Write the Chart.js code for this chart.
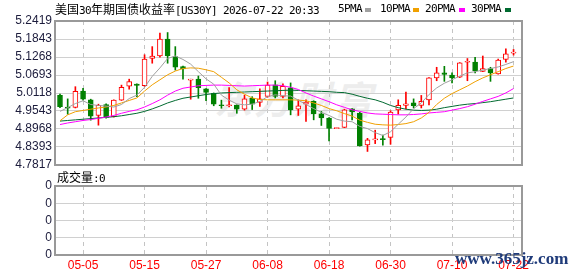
<!DOCTYPE html>
<html>
<head>
<meta charset="utf-8">
<script src="https://cdn.jsdelivr.net/npm/chart.js@4"></script>
<style>
  body { margin: 0; background: #fff; }
  #wrap { position: relative; width: 578px; height: 276px; overflow: hidden; font-family: "Noto Sans CJK SC", sans-serif; }
  #wrap canvas { position: absolute; left: 0; top: 0; }
  .txt { position: absolute; font-size: 12px; line-height: 14px; color: #000; white-space: nowrap; }
  .a { font-family: "DejaVu Sans Mono", monospace; font-size: 11px; letter-spacing: -0.62px; }
  .mk { position: absolute; width: 6px; height: 4px; }
  #wm { position: absolute; left: 214px; top: 70px; font-size: 38px; font-weight: bold; font-style: italic; color: #ededed; letter-spacing: 2px; }
  #site { position: absolute; left: 455px; top: 249px; font-family: "Liberation Serif", serif; font-weight: bold; font-size: 17px; color: #1f3b7a; }
</style>
</head>
<body>
<div id="wrap">
  <div id="wm">东方财富</div>
  <canvas id="price" width="578" height="276"></canvas>
  <canvas id="vol" width="578" height="276"></canvas>
  <div class="txt" style="left:55px;top:2px;">美国<span class="a">30</span>年期国债收益率<span class="a">[US30Y] 2026-07-22 20:33</span></div>
  <div class="txt a" style="left:338px;top:2px;">5PMA</div><div class="mk" style="left:365px;top:8px;background:#a0a0a0"></div>
  <div class="txt a" style="left:380px;top:2px;">10PMA</div><div class="mk" style="left:413px;top:8px;background:#f0a000"></div>
  <div class="txt a" style="left:425px;top:2px;">20PMA</div><div class="mk" style="left:459px;top:8px;background:#ff00ff"></div>
  <div class="txt a" style="left:471px;top:2px;">30PMA</div><div class="mk" style="left:505px;top:8px;background:#006a30"></div>
  <div class="txt" style="left:57px;top:170px;">成交量<span class="a">:0</span></div>
  <div id="site">www.365jz.com</div>
</div>
<script>
const dates = ['05-05', '05-15', '05-27', '06-08', '06-18', '06-30', '07-10', '07-22'];
const dateIdx = [3, 11, 19, 27, 35, 43, 51, 59];
const priceTicks = [4.7817, 4.8393, 4.8968, 4.9543, 5.0118, 5.0693, 5.1268, 5.1843, 5.2419];

const opens = [5.004, 4.967, 4.966, 5.018, 4.990, 4.940, 4.975, 4.936, 4.989, 5.034,
  5.040, 5.035, 5.122, 5.130, 5.184, 5.128, 5.096, 5.053, 5.056, 5.025,
  5.011, 4.974, 4.971, 4.973, 4.960, 4.995, 4.982, 5.001, 5.038, 5.001,
  5.028, 4.960, 4.976, 4.985, 4.945, 4.932, 4.898, 4.902, 4.961, 4.948,
  4.846, 4.862, 4.866, 4.870, 4.958, 4.972, 4.980, 4.972, 4.990, 5.060,
  5.076, 5.069, 5.062, 5.110, 5.111, 5.081, 5.090, 5.073, 5.119, 5.139];
const closes = [4.968, 4.963, 5.017, 4.992, 4.938, 4.972, 4.934, 4.989, 5.030, 5.048,
  5.036, 5.120, 5.130, 5.184, 5.131, 5.094, 5.089, 5.056, 5.029, 5.014,
  4.976, 4.971, 4.974, 4.960, 4.993, 4.976, 4.993, 5.037, 5.001, 5.033,
  4.958, 4.971, 4.983, 4.945, 4.932, 4.899, 4.900, 4.958, 4.951, 4.843,
  4.862, 4.865, 4.863, 4.951, 4.972, 4.977, 4.971, 4.985, 5.060, 5.076,
  5.071, 5.060, 5.108, 5.113, 5.083, 5.090, 5.076, 5.117, 5.137, 5.142];
const highs = [5.008, 4.993, 5.032, 5.027, 4.992, 4.976, 4.977, 4.990, 5.037, 5.056,
  5.041, 5.134, 5.160, 5.203, 5.205, 5.160, 5.098, 5.056, 5.066, 5.026,
  5.012, 4.989, 5.029, 4.974, 5.005, 5.000, 5.025, 5.047, 5.051, 5.041,
  5.044, 4.990, 4.990, 4.987, 4.953, 4.933, 4.900, 4.960, 4.962, 4.950,
  4.867, 4.893, 4.877, 4.955, 4.990, 5.015, 4.993, 5.004, 5.061, 5.094,
  5.097, 5.076, 5.109, 5.122, 5.126, 5.130, 5.094, 5.120, 5.153, 5.151];
const lows = [4.965, 4.944, 4.964, 4.989, 4.925, 4.909, 4.931, 4.935, 4.988, 5.024,
  5.000, 5.033, 5.107, 5.126, 5.107, 5.085, 5.056, 4.992, 4.995, 4.987,
  4.971, 4.963, 4.967, 4.947, 4.957, 4.959, 4.969, 4.998, 4.996, 4.996,
  4.942, 4.940, 4.921, 4.926, 4.908, 4.859, 4.898, 4.901, 4.926, 4.842,
  4.825, 4.850, 4.845, 4.848, 4.944, 4.961, 4.964, 4.964, 4.974, 5.051,
  5.049, 5.044, 5.061, 5.051, 5.076, 5.080, 5.049, 5.072, 5.110, 5.133];

// moving averages
const ma5 = [4.953, 4.965, 4.978, 4.987, 4.975, 4.972, 4.970, 4.967, 4.975, 4.994,
  5.005, 5.030, 5.065, 5.092, 5.122, 5.130, 5.119, 5.104, 5.080, 5.057,
  5.040, 5.005, 4.989, 4.977, 4.974, 4.976, 4.985, 5.000, 5.006, 5.003,
  5.002, 4.989, 4.975, 4.962, 4.950, 4.940, 4.928, 4.922, 4.920, 4.905,
  4.898, 4.885, 4.876, 4.888, 4.912, 4.935, 4.962, 4.980, 5.007, 5.028,
  5.043, 5.054, 5.066, 5.076, 5.080, 5.085, 5.090, 5.095, 5.103, 5.112];
const ma10 = [4.923, 4.942, 4.952, 4.956, 4.960, 4.964, 4.967, 4.972, 4.980, 4.988,
  4.996, 5.018, 5.038, 5.054, 5.070, 5.082, 5.090, 5.092, 5.091, 5.086,
  5.080, 5.062, 5.044, 5.022, 5.008, 4.996, 4.991, 4.990, 4.990, 4.990,
  4.990, 4.989, 4.987, 4.980, 4.972, 4.962, 4.955, 4.946, 4.938, 4.925,
  4.918, 4.912, 4.910, 4.909, 4.911, 4.914, 4.920, 4.932, 4.950, 4.975,
  4.995, 5.010, 5.022, 5.034, 5.048, 5.060, 5.070, 5.080, 5.090, 5.098];
const ma20 = [4.911, 4.916, 4.920, 4.924, 4.927, 4.931, 4.935, 4.940, 4.947, 4.953,
  4.958, 4.967, 4.978, 4.990, 5.005, 5.018, 5.027, 5.031, 5.035, 5.036,
  5.037, 5.037, 5.036, 5.035, 5.034, 5.035, 5.036, 5.037, 5.037, 5.035,
  5.030, 5.023, 5.012, 5.002, 4.993, 4.984, 4.974, 4.966, 4.958, 4.953,
  4.948, 4.945, 4.944, 4.943, 4.942, 4.942, 4.943, 4.945, 4.948, 4.950,
  4.952, 4.957, 4.962, 4.968, 4.976, 4.985, 4.993, 5.001, 5.012, 5.026];
const ma30 = [4.922, 4.924, 4.926, 4.928, 4.930, 4.932, 4.934, 4.936, 4.939, 4.943,
  4.947, 4.953, 4.961, 4.970, 4.980, 4.988, 4.995, 4.999, 5.003, 5.007,
  5.010, 5.012, 5.013, 5.014, 5.015, 5.016, 5.017, 5.018, 5.019, 5.020,
  5.021, 5.020, 5.019, 5.018, 5.017, 5.016, 5.014, 5.013, 5.008, 5.001,
  4.995, 4.990, 4.982, 4.972, 4.965, 4.960, 4.957, 4.956, 4.957, 4.960,
  4.965, 4.969, 4.973, 4.976, 4.978, 4.981, 4.984, 4.988, 4.992, 4.996];
const volumes = [0, 0, 0, 0, 0, 0, 0, 0, 0, 0, 0, 0, 0, 0, 0, 0, 0, 0, 0, 0,
  0, 0, 0, 0, 0, 0, 0, 0, 0, 0, 0, 0, 0, 0, 0, 0, 0, 0, 0, 0,
  0, 0, 0, 0, 0, 0, 0, 0, 0, 0, 0, 0, 0, 0, 0, 0, 0, 0, 0, 0];

const RED = '#ff0000', GREEN = '#008000';
const up = opens.map((o, i) => closes[i] >= o);
const xs = opens.map((o, i) => i);

const frame = {
  id: 'frame',
  afterDraw(chart) {
    const a = chart.chartArea, c = chart.ctx;
    c.save();
    c.strokeStyle = '#999';
    c.lineWidth = 2;
    c.strokeRect(a.left, a.top, a.right - a.left, a.bottom - a.top);
    c.restore();
  }
};

const xScale = (showLabels) => ({
  type: 'linear', min: -0.65, max: 60.1, offset: false,
  afterBuildTicks: s => { s.ticks = dateIdx.map(v => ({ value: v })); },
  afterFit: s => { s.height = showLabels ? 21 : 0; },
  grid: { color: '#c4c4c4', lineWidth: 1, drawTicks: false, offset: false },
  border: { display: true, color: '#999', dash: [4, 4] },
  ticks: {
    display: showLabels, color: RED, padding: 3, maxRotation: 0, autoSkip: false,
    font: { family: 'Liberation Sans', size: 12 },
    callback: (v, i) => dates[i]
  }
});

const yTicks = (cb) => ({
  color: '#1c1c3c', padding: 3, autoSkip: false,
  font: { family: 'Liberation Sans', size: 12 }, callback: cb
});

const line = (vals, color) => ({
  type: 'line', data: xs.map(i => ({ x: i, y: vals[i] })),
  borderColor: color, borderWidth: 1, pointRadius: 0, tension: 0, order: 0
});

new Chart(document.getElementById('price'), {
  data: {
    datasets: [
      line(ma5, '#a0a0a0'), line(ma10, '#f0a000'), line(ma20, '#ff00ff'), line(ma30, '#006a30'),
      {
        type: 'bar', order: 1, grouped: false, barThickness: 5, minBarLength: 1,
        data: xs.map(i => ({ x: i, y: [opens[i], closes[i]] })),
        backgroundColor: up.map(u => u ? '#fff' : GREEN),
        borderColor: up.map(u => u ? RED : GREEN),
        borderWidth: 1, borderSkipped: false
      },
      {
        type: 'bar', order: 2, grouped: false, barThickness: 1,
        data: xs.map(i => ({ x: i, y: [lows[i], highs[i]] })),
        backgroundColor: up.map(u => u ? RED : GREEN)
      }
    ]
  },
  options: {
    responsive: false, animation: false,
    layout: { padding: { top: 21, right: 56, bottom: 111, left: 0 } },
    plugins: { legend: { display: false }, tooltip: { enabled: false } },
    scales: {
      x: xScale(false),
      y: {
        min: 4.7817, max: 5.2419,
        afterBuildTicks: s => { s.ticks = priceTicks.map(v => ({ value: v })); },
        afterFit: s => { s.width = 55; },
        grid: { color: '#d0d0d0', drawTicks: false },
        border: { display: false },
        ticks: yTicks(v => v.toFixed(4))
      }
    }
  },
  plugins: [frame]
});

new Chart(document.getElementById('vol'), {
  data: {
    datasets: [{
      type: 'bar', barThickness: 5, backgroundColor: GREEN,
      data: xs.map(i => ({ x: i, y: volumes[i] }))
    }]
  },
  options: {
    responsive: false, animation: false,
    layout: { padding: { top: 186, right: 56, bottom: 0, left: 0 } },
    plugins: { legend: { display: false }, tooltip: { enabled: false } },
    scales: {
      x: xScale(true),
      y: {
        min: 0, max: 4,
        afterBuildTicks: s => { s.ticks = [0, 1, 2, 3, 4].map(v => ({ value: v })); },
        afterFit: s => { s.width = 55; },
        grid: { color: '#d0d0d0', drawTicks: false },
        border: { display: false },
        ticks: yTicks(() => '0')
      }
    }
  },
  plugins: [frame]
});
</script>
</body>
</html>
